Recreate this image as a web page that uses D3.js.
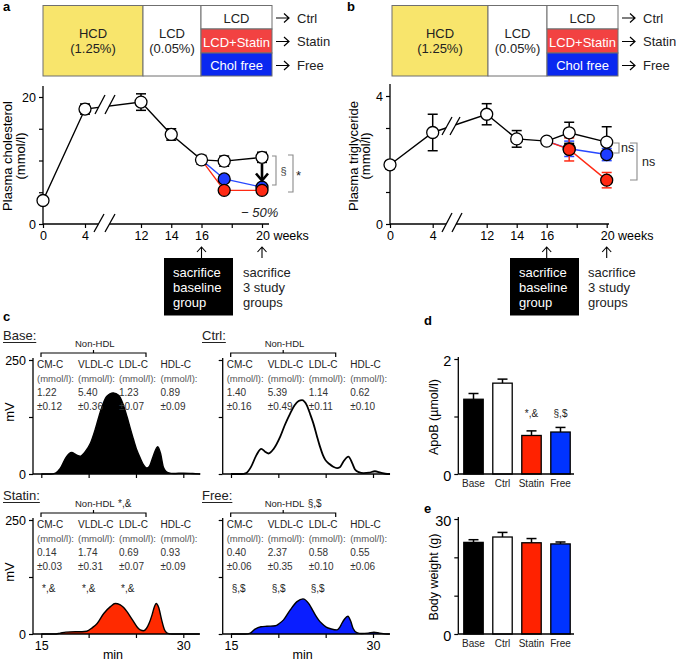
<!DOCTYPE html>
<html><head><meta charset="utf-8">
<script src="https://cdn.jsdelivr.net/npm/d3@7/dist/d3.min.js"></script>
<style>html,body{margin:0;padding:0;background:#fff}svg{display:block}</style>
</head><body>
<script>
// ---------------- data ----------------
const weeks = [0, 4, 12, 14, 16, 17.5, 20];
const weeksTreat = [16, 17.5, 20];
const weekTicks = [0, 4, 12, 14, 16, 18, 20];
const weekTickLabels = ["0", "4", "12", "14", "16", "", ""];

const cholCtrl = [3.7, 18.1, 19.2, 14.1, 10.1, 9.9, 10.5];
const cholCtrlErr = [0.3, 0.8, 1.3, 0.9, 0.7, 0.8, 0.8];
const cholStatin = [10.1, 5.3, 5.3];
const cholStatinErr = [0, 0.3, 0.3];
const cholFree = [10.1, 7.1, 5.8];
const cholFreeErr = [0, 0.4, 0.3];

const tgCtrl = [1.85, 2.86, 3.43, 2.66, 2.59, 2.85, 2.56];
const tgCtrlErr = [0.12, 0.57, 0.33, 0.26, 0.1, 0.33, 0.48];
const tgStatin = [2.59, 2.33, 1.37];
const tgStatinErr = [0, 0.36, 0.24];
const tgFree = [2.59, 2.35, 2.17];
const tgFreeErr = [0, 0.24, 0.19];

const groups = ["Base", "Ctrl", "Statin", "Free"];
const apoB = [1.30, 1.58, 0.67, 0.73];
const apoBErr = [0.10, 0.07, 0.08, 0.08];
const bodyWeight = [23.9, 25.3, 23.8, 23.5];
const bodyWeightErr = [0.7, 1.2, 1.1, 0.5];

const fractions = ["CM-C", "VLDL-C", "LDL-C", "HDL-C"];
const baseMean = ["1.22", "5.40", "1.23", "0.89"];
const baseSem = ["±0.12", "±0.36", "±0.07", "±0.09"];
const ctrlMean = ["1.40", "5.39", "1.14", "0.62"];
const ctrlSem = ["±0.16", "±0.49", "±0.11", "±0.10"];
const statinMean = ["0.14", "1.74", "0.69", "0.93"];
const statinSem = ["±0.03", "±0.31", "±0.07", "±0.09"];
const freeMean = ["0.40", "2.37", "0.58", "0.55"];
const freeSem = ["±0.06", "±0.35", "±0.10", "±0.06"];

// FPLC profiles [min, mV]
const chromBase = [[15,0],[16,0],[16.5,2],[17,12],[17.6,36],[18.2,47],[18.7,42],[19.1,39],[19.6,48],[20.2,68],[20.7,98],[21.2,134],[21.9,170],[22.6,178],[23.2,172],[23.6,155],[24.05,126],[24.4,100],[24.75,75],[25.1,52],[25.45,35],[25.8,20],[26.15,13],[26.45,18],[26.8,38],[27.3,60],[27.6,45],[27.9,15],[28.4,3],[29,1],[30,2],[31,1],[31.8,0]];
const chromCtrl = [[15,0],[16.1,0],[16.6,2],[17.1,15],[17.7,42],[18.2,55],[18.6,49],[18.97,45],[19.5,55],[20.2,82],[20.7,108],[21.26,133],[21.7,150],[22.14,160],[22.5,162],[23.0,151],[23.35,132],[23.7,111],[24.05,85],[24.4,60],[24.7,42],[24.96,31],[25.4,22],[25.8,16],[26.2,13],[26.5,15],[26.9,28],[27.4,38],[27.8,24],[28.1,10],[28.5,4],[29,2],[29.6,3],[30.2,6],[30.8,3],[31.5,0],[31.8,0]];
const chromStatin = [[15,0],[16.4,0],[17,2],[17.6,4],[18.6,5],[19.3,5],[19.8,6],[20.4,14],[20.9,23],[21.6,45],[22.3,60],[22.8,67],[23.34,64],[23.7,58],[24.05,49],[24.4,38],[24.75,27],[25.1,16],[25.45,9],[25.8,7],[26.1,12],[26.4,24],[26.7,42],[26.95,60],[27.14,67],[27.4,58],[27.7,32],[28,10],[28.3,2],[28.8,0],[31.7,0]];
const chromFree = [[15,0],[16.5,0],[17.04,2],[17.5,10],[18.17,16],[18.8,17],[19.68,18],[20.1,23],[20.55,31],[21.26,53],[21.97,71],[22.6,77],[23.2,67],[23.6,53],[23.9,42],[24.25,31],[24.6,23],[25.06,15],[25.6,11],[26.2,9],[26.5,15],[26.7,23],[27.0,33],[27.35,39],[27.65,28],[27.9,12],[28.3,3],[28.8,1],[29.5,2],[30.1,4],[30.7,2],[31.5,0],[31.8,0]];

// ---------------- drawing ----------------
const FONT = '"Liberation Sans", Arial, Helvetica, sans-serif';
const RED = "#ff2a14", BLUE = "#1e3cff";
const svg = d3.select("body").append("svg").attr("width", 676).attr("height", 661)
  .attr("font-family", FONT);

function T(g, x, y, s, o = {}) {
  const t = g.append("text").attr("x", x).attr("y", y).text(s)
    .attr("font-size", o.size || 13).attr("fill", o.fill || "#000");
  if (o.anchor) t.attr("text-anchor", o.anchor);
  if (o.weight) t.attr("font-weight", o.weight);
  if (o.italic) t.attr("font-style", "italic");
  if (o.rot != null) t.attr("transform", `rotate(${o.rot},${x},${y})`);
  return t;
}
function L(g, x1, y1, x2, y2, o = {}) {
  return g.append("line").attr("x1", x1).attr("y1", y1).attr("x2", x2).attr("y2", y2)
    .attr("stroke", o.stroke || "#000").attr("stroke-width", o.w || 1.2);
}
function P(g, d, o = {}) {
  return g.append("path").attr("d", d).attr("fill", o.fill || "none")
    .attr("stroke", o.stroke || "#000").attr("stroke-width", o.w || 1.2);
}
function styleAxis(sel, size) {
  sel.select(".domain").remove();
  sel.selectAll(".tick line").attr("stroke", "#000").attr("stroke-width", 1.2);
  sel.selectAll(".tick text").attr("font-size", size).attr("font-family", FONT).attr("fill", "#000");
}
function rightArrow(g, x, y) {
  P(g, `M${x},${y}H${x + 13}M${x + 8},${y - 4.5}L${x + 13},${y}L${x + 8},${y + 4.5}`, { w: 1.2 });
}
function upArrow(g, x, y1, y2) {
  P(g, `M${x},${y1}V${y2}M${x - 4.5},${y2 + 5}L${x},${y2}L${x + 4.5},${y2 + 5}`, { w: 1.1 });
}
function breakMark(g, xa, yb, xb, yt, dx) {
  g.append("path").attr("d", `M${xa},${yb}L${xb},${yt}L${xb + dx},${yt}L${xa + dx},${yb}Z`).attr("fill", "#fff");
  L(g, xa, yb, xb, yt, { w: 1.3 });
  L(g, xa + dx, yb, xb + dx, yt, { w: 1.3 });
}

// ---- diet scheme ----
function dietBox(x0, x1, x2, x3, arrX) {
  const g = svg.append("g");
  const top = 5.5, bot = 76, r1 = 29, r2 = 53;
  const rect = (x, y, w, h, f) => g.append("rect").attr("x", x).attr("y", y).attr("width", w).attr("height", h)
    .attr("fill", f).attr("stroke", "#6f6f6f").attr("stroke-width", 1);
  rect(x0, top, x1 - x0, bot - top, "#f8e56c");
  rect(x1, top, x2 - x1, bot - top, "#fff");
  rect(x2, top, x3 - x2, r1 - top, "#fff");
  rect(x2, r1, x3 - x2, r2 - r1, "#f24242");
  rect(x2, r2, x3 - x2, bot - r2, "#0a28f0");
  T(g, (x0 + x1) / 2, 38, "HCD", { anchor: "middle", fill: "#222" });
  T(g, (x0 + x1) / 2, 53, "(1.25%)", { anchor: "middle", fill: "#222" });
  T(g, (x1 + x2) / 2, 38, "LCD", { anchor: "middle", fill: "#222" });
  T(g, (x1 + x2) / 2, 53, "(0.05%)", { anchor: "middle", fill: "#222" });
  T(g, (x2 + x3) / 2, 23, "LCD", { anchor: "middle", fill: "#222" });
  T(g, (x2 + x3) / 2, 46.5, "LCD+Statin", { anchor: "middle", fill: "#fff" });
  T(g, (x2 + x3) / 2, 70, "Chol free", { anchor: "middle", fill: "#fff" });
  const lab = ["Ctrl", "Statin", "Free"], ys = [18, 41.5, 65.5];
  ys.forEach((y, i) => { rightArrow(g, arrX, y); T(g, arrX + 21, y + 4.5, lab[i], { fill: "#222" }); });
}
dietBox(43, 143, 201, 272, 276);
dietBox(392, 488, 547, 618, 622);

// ---- time course panels ----
function timeCourse(o) {
  const g = svg.append("g");
  const x = d3.scaleLinear().domain([0, 4, 12, 20]).range(o.xr);
  const y = d3.scaleLinear().domain([0, o.ymax]).range([224, o.ytop]);
  const x0 = o.xr[0];
  g.append("g").attr("transform", "translate(0,224)")
    .call(d3.axisBottom(x).tickValues(weekTicks).tickFormat((d, i) => weekTickLabels[i]).tickSize(4).tickSizeOuter(0))
    .call(s => styleAxis(s, 12.5));
  L(g, x0, 224, o.xEnd, 224, { w: 1.3 });
  g.append("g").attr("transform", `translate(${x0},0)`)
    .call(d3.axisLeft(y).tickValues(o.yTicks).tickFormat(d => (d === 0 || d === o.ymax) ? d : "").tickSize(4).tickSizeOuter(0))
    .call(s => styleAxis(s, 12.5));
  L(g, x0, 224, x0, o.yTop, { w: 1.3 });
  T(g, x(20) - 6, 240, "20 weeks", { size: 12.5 });
  breakMark(g, ...o.axBreak);
  T(g, o.ylabX, 156, o.ylab, { anchor: "middle", rot: -90, size: 13 });
  T(g, o.ylabX + o.ylabGap, 156, "(mmol/l)", { anchor: "middle", rot: -90, size: 13 });

  const line = d3.line().x(d => x(d[0])).y(d => y(d[1]));
  const ctrlPts = weeks.map((w, i) => [w, o.ctrl[i], o.ctrlErr[i]]);
  const freePts = weeksTreat.map((w, i) => [w, o.free[i], o.freeErr[i]]);
  const statPts = weeksTreat.map((w, i) => [w, o.statin[i], o.statinErr[i]]);
  g.append("path").datum(ctrlPts).attr("d", line).attr("fill", "none").attr("stroke", "#000").attr("stroke-width", 1.4);
  g.append("path").datum(freePts).attr("d", line).attr("fill", "none").attr("stroke", "#2848ff").attr("stroke-width", 1.4);
  g.append("path").datum(statPts).attr("d", line).attr("fill", "none").attr("stroke", RED).attr("stroke-width", 1.4);
  breakMark(g, ...o.dataBreak);

  const errBars = (pts, col) => pts.forEach(p => {
    if (!p[2]) return;
    const cx = x(p[0]), yt = y(p[1] + p[2]), yb = y(p[1] - p[2]);
    L(g, cx, yt, cx, yb, { stroke: col, w: 1.5 });
    L(g, cx - 5, yt, cx + 5, yt, { stroke: col, w: 1.5 });
    L(g, cx - 5, yb, cx + 5, yb, { stroke: col, w: 1.5 });
  });
  errBars(ctrlPts, "#000");
  errBars(freePts.slice(1), "#2848ff");
  errBars(statPts.slice(1), RED);
  const dots = (pts, fill) => g.selectAll(null).data(pts).join("circle")
    .attr("cx", d => x(d[0])).attr("cy", d => y(d[1])).attr("r", 6)
    .attr("fill", fill).attr("stroke", "#000").attr("stroke-width", 1.3);
  dots(ctrlPts, "#fff");
  dots(freePts.slice(1), BLUE);
  dots(statPts.slice(1), RED);

  // sacrifice annotations
  upArrow(g, x(16), 258, 247);
  upArrow(g, x(20), 258, 247);
  g.append("rect").attr("x", o.boxX).attr("y", 258).attr("width", 69).attr("height", 57.5).attr("fill", "#000");
  ["sacrifice", "baseline", "group"].forEach((s, i) => T(g, o.boxX + 9, 277 + 15 * i, s, { fill: "#fff" }));
  ["sacrifice", "3 study", "groups"].forEach((s, i) => T(g, o.box2X, 277 + 15 * i, s, { fill: "#222" }));
  return { g, x, y };
}

const pa = timeCourse({
  xr: [43, 85, 141, 262], xEnd: 269, ymax: 20, ytop: 97, yTop: 86, yTicks: [0, 5, 10, 15, 20],
  ctrl: cholCtrl, ctrlErr: cholCtrlErr, statin: cholStatin, statinErr: cholStatinErr, free: cholFree, freeErr: cholFreeErr,
  axBreak: [94, 232, 104, 214, 11], dataBreak: [95, 114, 105, 95, 10],
  ylab: "Plasma cholesterol", ylabX: 11.5, ylabGap: 13.5, boxX: 164, box2X: 243
});
const pb = timeCourse({
  xr: [390, 432.7, 486.7, 606.7], xEnd: 609, ymax: 4, ytop: 96, yTop: 84, yTicks: [0, 1, 2, 3, 4],
  ctrl: tgCtrl, ctrlErr: tgCtrlErr, statin: tgStatin, statinErr: tgStatinErr, free: tgFree, freeErr: tgFreeErr,
  axBreak: [442, 232, 452, 213, 10], dataBreak: [442, 135, 452, 117, 8],
  ylab: "Plasma triglyceride", ylabX: 358, ylabGap: 12, boxX: 510, box2X: 588
});

// panel a extras
{
  const g = pa.g;
  P(g, "M262,164V179", { w: 2.6 });
  P(g, "M256,173.5L262,180.5L268,173.5", { w: 2.6 });
  T(g, 241, 217, "− 50%", { italic: true, size: 13, fill: "#222" });
  P(g, "M272,156H276V185H272", { stroke: "#8a8a8a", w: 1.1 });
  T(g, 280.5, 175, "§", { size: 11, fill: "#444" });
  P(g, "M288,155H293V192H288", { stroke: "#8a8a8a", w: 1.1 });
  T(g, 296, 180, "*", { size: 13, fill: "#222" });
}
// panel b extras
{
  const g = pb.g;
  P(g, "M613,143H619V153H613", { stroke: "#8a8a8a", w: 1.1 });
  T(g, 621, 152, "ns", { size: 12.5, fill: "#222" });
  P(g, "M630,143H637V180H630", { stroke: "#8a8a8a", w: 1.1 });
  T(g, 642, 166, "ns", { size: 12.5, fill: "#222" });
}

// panel letters
T(svg, 3, 11, "a", { weight: "bold", size: 13 });
T(svg, 347, 11, "b", { weight: "bold", size: 13 });
T(svg, 3, 321, "c", { weight: "bold", size: 13 });
T(svg, 424, 325, "d", { weight: "bold", size: 13 });
T(svg, 424, 513, "e", { weight: "bold", size: 13 });

// ---- FPLC panels ----
function chrom(o) {
  const g = svg.append("g");
  const ax = o.ax, y0 = o.y0;
  const x = d3.scaleLinear().domain([15, 30]).range([ax + 8.3, ax + 150.3]);
  const y = d3.scaleLinear().domain([0, 250]).range([y0, y0 - 114]);
  const area = d3.area().x(d => x(d[0])).y0(y(0)).y1(d => y(d[1])).curve(d3.curveMonotoneX);
  const line = d3.line().x(d => x(d[0])).y(d => y(d[1])).curve(d3.curveMonotoneX);
  if (o.fill) g.append("path").datum(o.data).attr("d", area).attr("fill", o.fill).attr("stroke", "none");
  g.append("path").datum(o.data).attr("d", line).attr("fill", "none").attr("stroke", "#000").attr("stroke-width", o.fill ? 1.4 : 1.8);

  g.append("g").attr("transform", `translate(0,${y0})`)
    .call(d3.axisBottom(x).tickValues([15, 20, 25, 30]).tickFormat(d => (o.showX && (d === 15 || d === 30)) ? d : "").tickSize(4).tickSizeOuter(0))
    .call(s => styleAxis(s, 12.5));
  L(g, ax, y0, ax + 167, y0, { w: 1.3 });
  g.append("g").attr("transform", `translate(${ax},0)`)
    .call(d3.axisLeft(y).tickValues([0, 125, 250]).tickFormat(d => (o.showY && d !== 125) ? d : "").tickSize(4).tickSizeOuter(0))
    .call(s => styleAxis(s, 12.5));
  L(g, ax, y0, ax, y0 - 116, { w: 1.3 });
  if (o.showY) T(g, ax - 19.5, y0 - 62, "mV", { anchor: "middle", rot: -90, size: 13 });
  if (o.showX) T(g, ax + 80, y0 + 25, "min", { anchor: "middle", size: 12.5 });

  // title
  const t = T(g, o.titleX, y0 - 134, o.title, { size: 13, fill: "#222" });
  const tw = t.node().getComputedTextLength();
  L(g, o.titleX, y0 - 131.5, o.titleX + tw, y0 - 131.5, { w: 1, stroke: "#222" });
  // non-HDL bracket
  const by = y0 - 121;
  P(g, `M${ax + 8},${by + 4}V${by}H${ax + 113}V${by + 4}M${ax + 60.5},${by}V${by - 3}`, { w: 1.2 });
  T(g, ax + 42, y0 - 127, "Non-HDL", { size: 9.5, fill: "#222" });
  if (o.nonHdlMark) T(g, ax + 85, y0 - 127, o.nonHdlMark, { size: 10, fill: "#222" });
  const cols = [4, 45, 86, 127.5];
  fractions.forEach((f, i) => {
    const cx = ax + cols[i];
    T(g, cx, y0 - 106, f, { size: 10, fill: "#222" });
    T(g, cx, y0 - 92, "(mmol/l):", { size: 9.5, fill: "#555" });
    T(g, cx, y0 - 78, o.mean[i], { size: 10, fill: "#333" });
    T(g, cx, y0 - 64, o.sem[i], { size: 10, fill: "#333" });
    if (o.mark && i < 3) T(g, cx + [5, 4, 2][i], y0 - 42, o.mark, { size: 10, fill: "#222" });
  });
}
chrom({ ax: 33, y0: 474, data: chromBase, fill: "#000", title: "Base:", titleX: 3, mean: baseMean, sem: baseSem, showY: true });
chrom({ ax: 222.7, y0: 474, data: chromCtrl, fill: null, title: "Ctrl:", titleX: 202, mean: ctrlMean, sem: ctrlSem });
chrom({ ax: 33, y0: 634, data: chromStatin, fill: "#ff2a00", title: "Statin:", titleX: 3, mean: statinMean, sem: statinSem, showY: true, showX: true, nonHdlMark: "*,&", mark: "*,&" });
chrom({ ax: 222.7, y0: 634, data: chromFree, fill: "#0a1eff", title: "Free:", titleX: 202, mean: freeMean, sem: freeSem, showX: true, nonHdlMark: "§,$", mark: "§,$" });

// ---- bar panels ----
function barPanel(o) {
  const g = svg.append("g");
  const x = d3.scaleBand().domain(groups).range([459, 575]).paddingInner(0.33).paddingOuter(0.165);
  const y = d3.scaleLinear().domain([0, o.ymax]).range([o.y0, o.y0 - 115]);
  const cols = ["#000", "#fff", "#ff2200", "#0033ff"];
  groups.forEach((k, i) => {
    const cx = x(k) + x.bandwidth() / 2, yt = y(o.v[i] + o.e[i]);
    L(g, cx, y(o.v[i]), cx, yt, { w: 1.5 });
    L(g, cx - 5, yt, cx + 5, yt, { w: 1.5 });
  });
  g.selectAll(null).data(groups).join("rect")
    .attr("x", d => x(d)).attr("width", x.bandwidth())
    .attr("y", (d, i) => y(o.v[i])).attr("height", (d, i) => o.y0 - y(o.v[i]))
    .attr("fill", (d, i) => cols[i]).attr("stroke", "#000").attr("stroke-width", 1.3);
  L(g, 458.3, o.y0, 574, o.y0, { w: 1.3 });
  g.selectAll(null).data(groups).join("text")
    .attr("x", d => x(d) + x.bandwidth() / 2).attr("y", o.y0 + 13).attr("text-anchor", "middle")
    .attr("font-size", 10).attr("fill", "#222").text(d => d);
  g.append("g").attr("transform", "translate(458.3,0)")
    .call(d3.axisLeft(y).tickValues(o.ticks).tickFormat(d => (d === 0 || d === o.ymax) ? d : "").tickSize(4).tickSizeOuter(0))
    .call(s => styleAxis(s, 14.5))
    .call(s => s.selectAll(".tick text").attr("dy", "0.45em"));
  L(g, 458.3, o.y0, 458.3, o.y0 - 117, { w: 1.3 });
  T(g, 438, o.y0 - 57, o.ylab, { anchor: "middle", rot: -90, size: 12.5 });
  return { g, x, y };
}
const pd = barPanel({ y0: 474, ymax: 2, ticks: [0, 1, 2], v: apoB, e: apoBErr, ylab: "ApoB (µmol/l)" });
T(pd.g, pd.x("Statin") + pd.x.bandwidth() / 2, 417, "*,&", { anchor: "middle", size: 10, fill: "#222" });
T(pd.g, pd.x("Free") + pd.x.bandwidth() / 2, 417, "§,$", { anchor: "middle", size: 10, fill: "#222" });
barPanel({ y0: 634, ymax: 30, ticks: [0, 10, 20, 30], v: bodyWeight, e: bodyWeightErr, ylab: "Body weight (g)" });
</script>
</body></html>
